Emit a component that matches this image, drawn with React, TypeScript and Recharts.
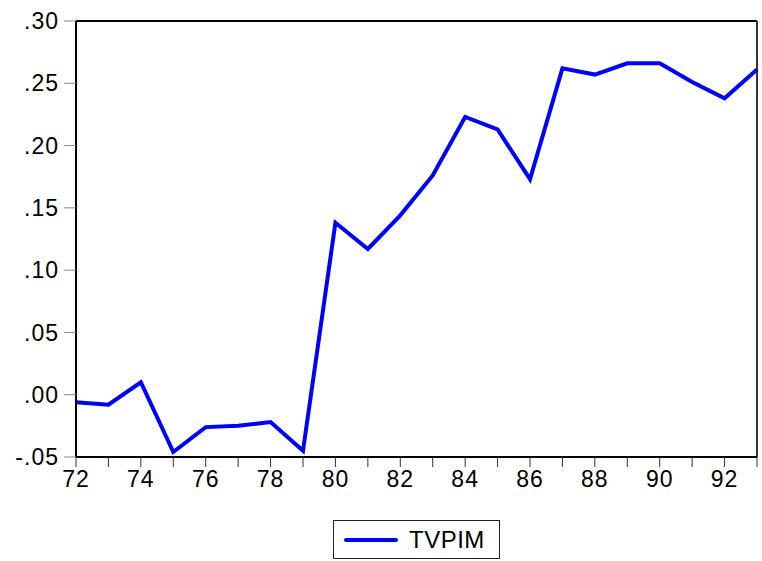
import { Legend, Line, LineChart, ReferenceLine, XAxis, YAxis } from 'recharts';

const years = [72, 73, 74, 75, 76, 77, 78, 79, 80, 81, 82, 83, 84, 85, 86, 87, 88, 89, 90, 91, 92, 93];
const tvpim = [
  -0.006, -0.008, 0.010, -0.046, -0.026, -0.025, -0.022, -0.045, 0.138, 0.117, 0.144,
  0.176, 0.223, 0.213, 0.173, 0.262, 0.257, 0.266, 0.266, 0.251, 0.238, 0.261,
];
const yTicks = [-0.05, 0, 0.05, 0.1, 0.15, 0.2, 0.25, 0.3];

const data = years.map((year, i) => ({ year, tvpim: tvpim[i] }));

const fmtY = (v: number) => v.toFixed(2).replace('0.', '.');
const fmtX = (v: number) => (v % 2 === 0 ? String(v) : '');

const tickFont = { fill: '#000', fontSize: 23, letterSpacing: 1 };

const LegendBox = () => (
  <div
    style={{
      display: 'inline-flex',
      alignItems: 'center',
      border: '1px solid #222',
      padding: '0 10px',
      width: 167,
      height: 39,
      boxSizing: 'border-box',
      background: '#fff',
    }}
  >
    <span style={{ width: 54, height: 4, background: '#0000ff', borderRadius: 2, marginRight: 11 }} />
    <span style={{ fontSize: 24, color: '#000', letterSpacing: 0.5 }}>TVPIM</span>
  </div>
);

const App = () => (
  <div style={{ position: 'absolute', left: 0, top: 0, fontFamily: '"Liberation Sans", Arial, sans-serif' }}>
    <LineChart width={762} height={561} data={data} margin={{ top: 21, right: 5, left: 0, bottom: 34 }}>
      <XAxis
        dataKey="year"
        type="number"
        domain={[72, 93]}
        ticks={years}
        interval={0}
        tickFormatter={fmtX}
        height={30}
        tickSize={10}
        tickMargin={4}
        axisLine={{ stroke: '#000', strokeWidth: 2 }}
        tickLine={{ stroke: '#333' }}
        tick={tickFont}
      />
      <YAxis
        domain={[-0.05, 0.3]}
        ticks={yTicks}
        tickFormatter={fmtY}
        width={76}
        tickSize={12}
        tickMargin={5}
        axisLine={{ stroke: '#000', strokeWidth: 2 }}
        tickLine={{ stroke: '#888' }}
        tick={tickFont}
      />
      <ReferenceLine y={0.3} stroke="#000" strokeWidth={2} />
      <ReferenceLine x={93} stroke="#333" strokeWidth={2} />
      <Legend
        verticalAlign="bottom"
        align="center"
        height={40}
        content={LegendBox}
        wrapperStyle={{ bottom: 1, left: 0, width: 833, textAlign: 'center' }}
      />
      <Line
        type="linear"
        dataKey="tvpim"
        stroke="#0000ff"
        strokeWidth={4}
        dot={false}
        isAnimationActive={false}
        legendType="line"
      />
    </LineChart>
  </div>
);

export default App;
